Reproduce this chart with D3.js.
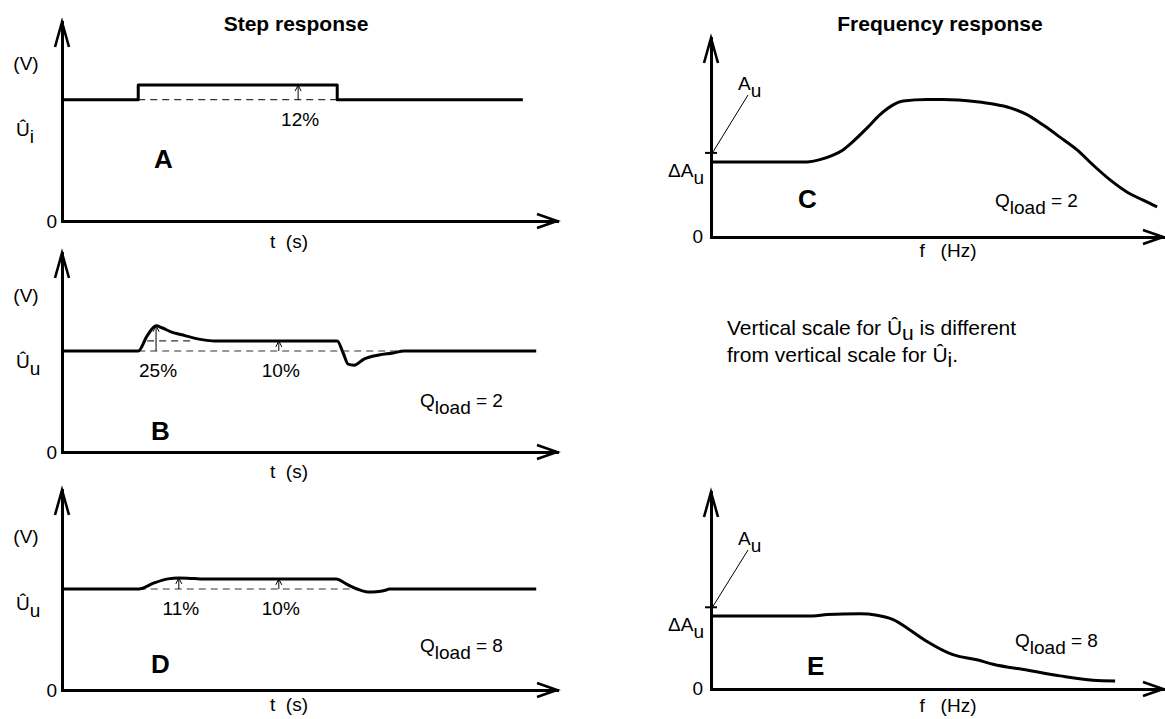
<!DOCTYPE html>
<html>
<head>
<meta charset="utf-8">
<script src="https://cdn.jsdelivr.net/npm/d3@7"></script>
<style>
  html, body { margin: 0; padding: 0; background: #fff; }
  svg { display: block; }
  text { font-family: "Liberation Sans", Arial, Helvetica, sans-serif; fill: #000; }
</style>
</head>
<body>
<svg id="chart" width="1165" height="719"></svg>
<script>
// ---- Step responses: time (0–100, arbitrary units) vs level relative to Û ----
const stepA = [[0, 1.0], [15.4, 1.0], [15.4, 1.12], [55.6, 1.12], [55.6, 1.0], [93.1, 1.0]];
const stepB = [[0, 1.0], [15.4, 1.0], [17.2, 1.15], [19.0, 1.25], [20.2, 1.23], [22.0, 1.19],
               [24.2, 1.16], [26.5, 1.13], [28.6, 1.11], [30.7, 1.10], [55.6, 1.10], [56.8, 0.98],
               [57.8, 0.87], [59.0, 0.86], [61.0, 0.92], [64.0, 0.96], [66.9, 0.98], [69.1, 1.0],
               [95.8, 1.0]];
const stepD = [[0, 1.0], [15.5, 1.0], [18.6, 1.06], [21.4, 1.10], [23.6, 1.11], [26.0, 1.105],
               [27.9, 1.10], [55.4, 1.10], [57.4, 1.05], [59.6, 1.0], [61.8, 0.97], [64.0, 0.975],
               [65.5, 0.99], [66.1, 1.0], [95.8, 1.0]];

// dashed reference levels: [t start, t end, level]
const refA = [[15.4, 55.6, 1.0]];
const refB = [[15.4, 69.1, 1.0], [17.2, 26.5, 1.10]];
const refD = [[15.5, 59.6, 1.0]];

// measured deviations: [t, level, label]
const pctA = [[47.7, 1.12, "12%"]];
const pctB = [[19.0, 1.25, "25%"], [43.8, 1.10, "10%"]];
const pctD = [[23.6, 1.11, "11%"], [43.8, 1.10, "10%"]];

// ---- Frequency responses: frequency (0–100, arbitrary units) vs gain relative to ΔAu ----
const freqC = [[0, 1.0], [21.2, 1.0], [24.1, 1.03], [27.0, 1.09], [29.2, 1.16], [31.4, 1.27],
               [34.5, 1.45], [37.4, 1.63], [40.3, 1.76], [42.5, 1.81], [47.8, 1.83], [51.3, 1.83],
               [58.8, 1.80], [62.4, 1.77], [66.2, 1.72], [69.9, 1.63], [73.5, 1.49], [77.2, 1.33],
               [81.0, 1.16], [84.5, 0.96], [88.3, 0.76], [92.0, 0.60], [95.6, 0.49], [98.7, 0.40]];
const freqE = [[0, 1.0], [22.6, 1.0], [25.7, 1.02], [33.0, 1.03], [36.7, 1.01], [40.3, 0.95],
               [44.0, 0.81], [47.8, 0.65], [53.5, 0.47], [58.8, 0.40], [62.4, 0.34], [69.9, 0.26],
               [77.2, 0.18], [84.5, 0.12], [89.4, 0.11]];
const auMark = 1.12;   // Au marked on the gain axis

// axis extents (value at the arrow tip)
const timeDomain = [0, 100];
const freqDomain = [0, 100];
const levelTopA = 1.64, levelTopB = 1.97, levelTopD = 1.98;
const gainTopC = 2.65, gainTopE = 2.70;

// ---------------------------------------------------------------------------
const svg = d3.select("#chart");
const FONT = 19;

function makePanel(frame, xDomain, yTop) {
  const x = d3.scaleLinear().domain(xDomain).range([frame.left, frame.right]);
  const y = d3.scaleLinear().domain([0, yTop]).range([frame.bottom, frame.top]);
  const g = svg.append("g");

  // axes drawn by d3 without ticks, the domain path becomes the axis line
  const ax = g.append("g").attr("transform", `translate(0,${frame.bottom})`)
    .call(d3.axisBottom(x).tickValues([]).tickSizeOuter(0));
  const ay = g.append("g").attr("transform", `translate(${frame.left},0)`)
    .call(d3.axisLeft(y).tickValues([]).tickSizeOuter(0));
  [ax, ay].forEach(a => a.select(".domain")
    .attr("stroke", "#000").attr("stroke-width", 3).attr("stroke-linecap", "square"));

  // arrow heads
  const xt = x(xDomain[1]), yb = frame.bottom;
  g.append("path")
    .attr("d", `M${xt - 20},${yb - 7} L${xt},${yb} L${xt - 20},${yb + 7}`)
    .attr("fill", "none").attr("stroke", "#000").attr("stroke-width", 2.6)
    .attr("stroke-linejoin", "miter").attr("stroke-miterlimit", 20);
  const yt = y(yTop), xl = frame.left;
  g.append("path")
    .attr("d", `M${xl - 7},${yt + 25} L${xl},${yt} L${xl + 7},${yt + 25}`)
    .attr("fill", "none").attr("stroke", "#000").attr("stroke-width", 2.6)
    .attr("stroke-linejoin", "miter").attr("stroke-miterlimit", 20);
  return { g, x, y };
}

function trace(p, data, curve) {
  p.g.append("path")
    .datum(data)
    .attr("d", d3.line().x(d => p.x(d[0])).y(d => p.y(d[1])).curve(curve))
    .attr("fill", "none").attr("stroke", "#000").attr("stroke-width", 3)
    .attr("stroke-linejoin", "round");
}

function refLines(p, refs) {
  p.g.selectAll(null).data(refs).join("line")
    .attr("x1", d => p.x(d[0])).attr("x2", d => p.x(d[1]))
    .attr("y1", d => p.y(d[2])).attr("y2", d => p.y(d[2]))
    .attr("stroke", "#333").attr("stroke-width", 1.2).attr("stroke-dasharray", "7,5");
}

function pctMarks(p, marks) {
  const sel = p.g.selectAll(null).data(marks).join("g");
  sel.append("line")
    .attr("x1", d => p.x(d[0])).attr("x2", d => p.x(d[0]))
    .attr("y1", p.y(1)).attr("y2", d => p.y(d[1]))
    .attr("stroke", "#000").attr("stroke-width", 1);
  sel.append("path")
    .attr("d", d => { const X = p.x(d[0]), Y = p.y(d[1]);
      return `M${X - 3},${Y + 6} L${X},${Y} L${X + 3},${Y + 6}`; })
    .attr("fill", "none").attr("stroke", "#000").attr("stroke-width", 1);
  sel.append("text")
    .attr("x", d => p.x(d[0]) + 2).attr("y", p.y(1) + 26)
    .attr("text-anchor", "middle").attr("font-size", FONT)
    .text(d => d[2]);
}

// text made of normal and subscript runs
function rich(x, y, parts, opts = {}) {
  const shift = opts.shift || 7;
  const t = svg.append("text").attr("x", x).attr("y", y)
    .attr("font-size", opts.size || FONT)
    .attr("font-weight", opts.weight || "normal")
    .attr("text-anchor", opts.anchor || "start");
  let shifted = false;
  parts.forEach(([s, sub]) => {
    const ts = t.append("tspan").text(s);
    if (sub && !shifted) { ts.attr("dy", shift); shifted = true; }
    else if (!sub && shifted) { ts.attr("dy", -shift); shifted = false; }
  });
  return t;
}

// ---- panels ----
const pA = makePanel({ left: 62, right: 557, bottom: 221, top: 22 }, timeDomain, levelTopA);
const pB = makePanel({ left: 62, right: 557, bottom: 452, top: 253 }, timeDomain, levelTopB);
const pD = makePanel({ left: 62, right: 557, bottom: 690, top: 490 }, timeDomain, levelTopD);
const pC = makePanel({ left: 711, right: 1163, bottom: 237, top: 38 }, freqDomain, gainTopC);
const pE = makePanel({ left: 711, right: 1163, bottom: 689, top: 492 }, freqDomain, gainTopE);

refLines(pA, refA); refLines(pB, refB); refLines(pD, refD);
trace(pA, stepA, d3.curveLinear);
trace(pB, stepB, d3.curveMonotoneX);
trace(pD, stepD, d3.curveMonotoneX);
trace(pC, freqC, d3.curveMonotoneX);
trace(pE, freqE, d3.curveMonotoneX);
pctMarks(pA, pctA); pctMarks(pB, pctB); pctMarks(pD, pctD);

// Au marks with leader lines
[[pC, 90, 257], [pE, 545, 712]].forEach(([p, ly, fy]) => {
  const ym = p.y(auMark), xa = p.x(0);
  p.g.append("line").attr("x1", xa - 6).attr("x2", xa + 6).attr("y1", ym).attr("y2", ym)
    .attr("stroke", "#000").attr("stroke-width", 2);
  p.g.append("line").attr("x1", xa + 2).attr("y1", ym - 1).attr("x2", xa + 37).attr("y2", ly + 5)
    .attr("stroke", "#000").attr("stroke-width", 1);
  rich(xa + 27, ly, [["A"], ["u", true]]);
  rich(xa - 7, p.y(1) + 15, [["\u0394A"], ["u", true]], { anchor: "end" });
  rich(xa - 8, p.y(0) + 6, [["0"]], { anchor: "end" });
  rich(948, fy, [["f\u00a0\u00a0\u00a0(Hz)"]], { anchor: "middle" });
});

// titles
rich(296, 31, [["Step response"]], { anchor: "middle", weight: "bold", size: 21 });
rich(940, 31, [["Frequency response"]], { anchor: "middle", weight: "bold", size: 21 });

// step-response axis labels: [panel, subscript, "(V)" baseline, "Û" baseline, "t (s)" baseline]
[[pA, "i", 70, 136, 248], [pB, "u", 302, 368, 478], [pD, "u", 543, 610, 711]]
  .forEach(([p, s, vy, uy, ty]) => {
    rich(26, vy, [["(V)"]], { anchor: "middle" });
    rich(16, uy, [["\u00db"], [s, true]]);
    rich(57, p.y(0) + 7, [["0"]], { anchor: "end" });
    rich(289, ty, [["t\u00a0\u00a0(s)"]], { anchor: "middle" });
  });

// panel letters
const BIG = { weight: "bold", size: 26 };
rich(154, 168, [["A"]], BIG);
rich(151, 440, [["B"]], BIG);
rich(151, 673, [["D"]], BIG);
rich(798, 208, [["C"]], BIG);
rich(807, 675, [["E"]], BIG);

// load factors
rich(420, 407, [["Q"], ["load", true], ["\u00a0= 2"]]);
rich(420, 652, [["Q"], ["load", true], ["\u00a0= 8"]]);
rich(995, 207, [["Q"], ["load", true], ["\u00a0= 2"]]);
rich(1015, 647, [["Q"], ["load", true], ["\u00a0= 8"]]);

// note between the frequency plots
rich(727, 335, [["Vertical scale for \u00db"], ["u", true], [" is different"]], { size: 21, shift: 5 });
rich(727, 362, [["from vertical scale for \u00db"], ["i", true], ["."]], { size: 21, shift: 5 });
</script>
</body>
</html>
